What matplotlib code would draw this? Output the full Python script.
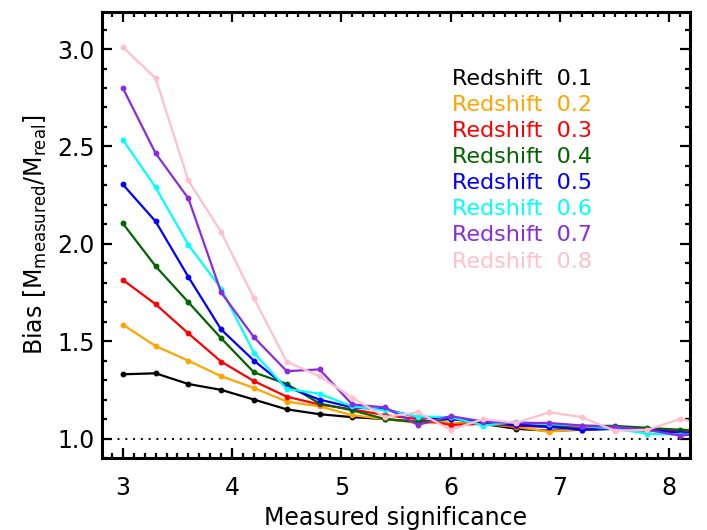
import numpy as np
import matplotlib
matplotlib.use("Agg")
import matplotlib.pyplot as plt
from matplotlib.ticker import MultipleLocator

# measured significance bins
sig = [3.0, 3.3, 3.6, 3.9, 4.2, 4.5, 4.8, 5.1, 5.4, 5.7, 6.0,
       6.3, 6.6, 6.9, 7.2, 7.5, 7.8, 8.1, 8.4]

redshifts = ['0.1', '0.2', '0.3', '0.4', '0.5', '0.6', '0.7', '0.8']
colors = ['black', 'orange', 'red', 'darkgreen', 'blue', 'cyan',
          'blueviolet', 'pink']

bias_z01 = [1.33, 1.335, 1.28, 1.25, 1.20, 1.15, 1.125, 1.11, 1.10, 1.085,
            1.08, 1.075, 1.05, 1.04, 1.045, 1.05, 1.04, 1.035, 1.03]
bias_z02 = [1.585, 1.475, 1.40, 1.32, 1.26, 1.19, 1.165, 1.12, 1.10, 1.08,
            1.08, 1.075, 1.06, 1.035, 1.05, 1.05, 1.04, 1.035, 1.03]
bias_z03 = [1.815, 1.69, 1.54, 1.395, 1.295, 1.215, 1.175, 1.15, 1.12, 1.10,
            1.07, 1.075, 1.065, 1.06, 1.055, 1.05, 1.05, 1.04, 1.035]
bias_z04 = [2.105, 1.885, 1.70, 1.515, 1.34, 1.28, 1.18, 1.145, 1.10, 1.085,
            1.10, 1.08, 1.07, 1.065, 1.065, 1.065, 1.055, 1.045, 1.04]
bias_z05 = [2.305, 2.115, 1.83, 1.56, 1.40, 1.265, 1.20, 1.16, 1.15, 1.11,
            1.10, 1.085, 1.07, 1.06, 1.046, 1.05, 1.045, 1.03, 1.025]
bias_z06 = [2.535, 2.29, 1.995, 1.77, 1.44, 1.255, 1.23, 1.165, 1.145, 1.113,
            1.11, 1.067, 1.085, 1.075, 1.065, 1.05, 1.025, 1.02, 1.025]
bias_z07 = [2.80, 2.465, 2.233, 1.75, 1.52, 1.346, 1.355, 1.175, 1.16, 1.07,
            1.115, 1.087, 1.08, 1.08, 1.067, 1.06, 1.045, 1.015, 1.03]
bias_z08 = [3.01, 2.85, 2.325, 2.06, 1.72, 1.395, 1.32, 1.21, 1.11, 1.135,
            1.045, 1.10, 1.08, 1.135, 1.11, 1.04, 1.045, 1.10, 1.07]

all_bias = [bias_z01, bias_z02, bias_z03, bias_z04,
            bias_z05, bias_z06, bias_z07, bias_z08]

fig = plt.figure(figsize=(7.07, 5.30), dpi=100)
ax = fig.add_axes([0.1443, 0.1358, 0.8317, 0.8415])

for bias, col in zip(all_bias, colors):
    ax.plot(sig, bias, '-', color=col, lw=1.6, marker='o', ms=3.2)

ax.axhline(1.0, color='black', ls=(0, (1, 3)), lw=1.4)

ax.set_xlim(2.81, 8.19)
ax.set_ylim(0.9, 3.19)
ax.xaxis.set_major_locator(MultipleLocator(1))
ax.xaxis.set_minor_locator(MultipleLocator(0.1))
ax.yaxis.set_major_locator(MultipleLocator(0.5))
ax.yaxis.set_minor_locator(MultipleLocator(0.1))
ax.yaxis.set_major_formatter(matplotlib.ticker.FormatStrFormatter('%.1f'))

ax.tick_params(which='both', direction='in', top=True, right=True,
               width=1.6, labelsize=17)
ax.tick_params(which='major', length=7)
ax.tick_params(which='minor', length=3.5)
ax.tick_params(axis='x', pad=13)
ax.tick_params(axis='y', pad=5)
for sp in ax.spines.values():
    sp.set_linewidth(2.2)

ax.set_xlabel('Measured significance', fontsize=17, labelpad=4)
ax.set_ylabel(r'Bias $\left[\mathrm{M_{measured}/M_{real}}\right]$',
              fontsize=17, labelpad=6)

# coloured legend text
for i, (z, col) in enumerate(zip(redshifts, colors)):
    ax.text(0.595, 0.85 - i * 0.0585, 'Redshift  ' + z, color=col,
            fontsize=16, transform=ax.transAxes, va='center', ha='left')

fig.savefig('out.png', dpi=100)
